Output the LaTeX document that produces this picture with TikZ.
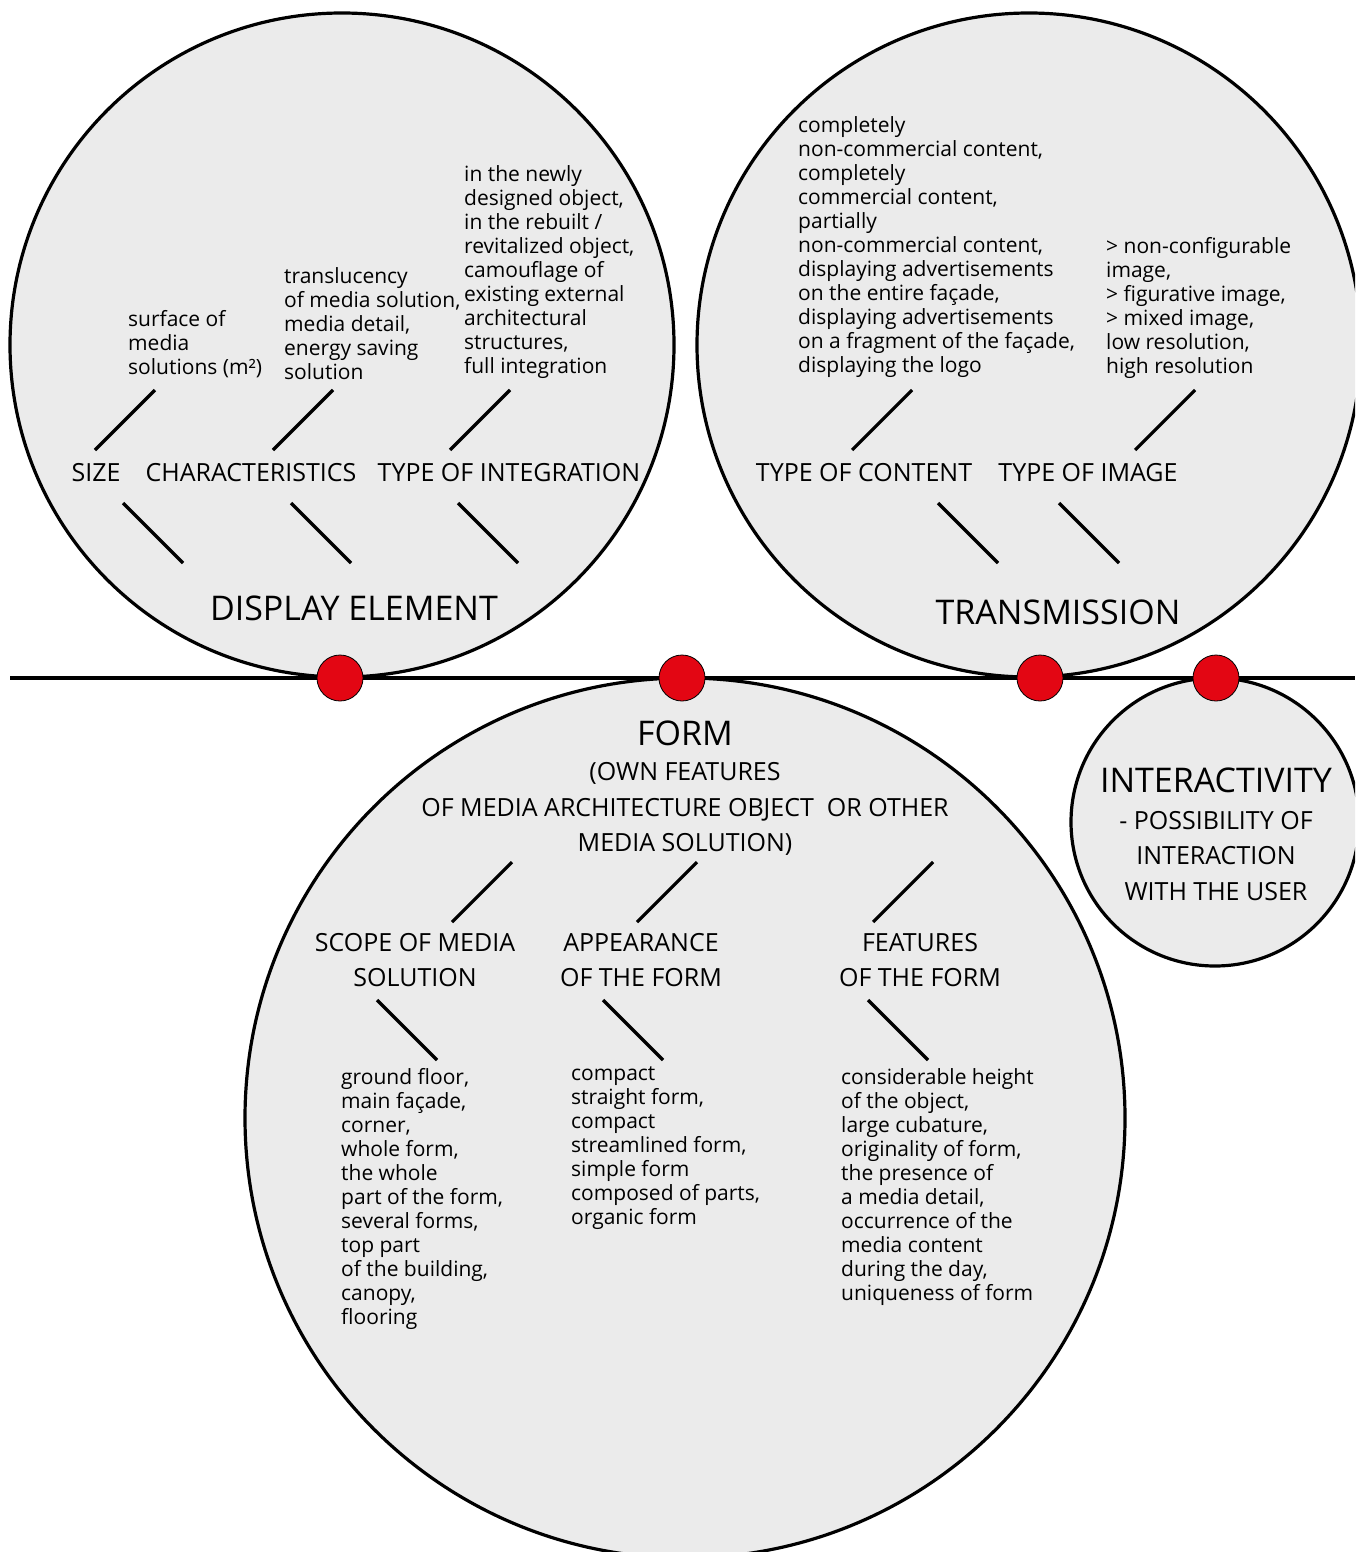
\documentclass[tikz,border=0pt]{standalone}
\usepackage{fontspec}
\setmainfont{Open Sans}
\definecolor{bubblegray}{HTML}{EBEBEB}
\definecolor{dotred}{HTML}{E30613}
\newcommand\fsS{\fontsize{21}{24}\selectfont}
\newcommand\fsM{\fontsize{25}{35.5}\selectfont}
\newcommand\fsL{\fontsize{34}{38}\selectfont}
\begin{document}
\begin{tikzpicture}[x=1pt,y=-1pt,
  bubble/.style={circle, draw=black, line width=3.2pt, fill=bubblegray, inner sep=0pt},
  conn/.style={line width=3.2pt},
  reddot/.style={circle, fill=dotred, draw=black, line width=0.8pt, minimum size=46pt, inner sep=0pt},
  lst/.style={align=left, anchor=west, inner sep=0pt, font=\fsS},
  lab/.style={align=center, inner sep=0pt, font=\fsM},
  ttl/.style={inner sep=0pt, font=\fsL}]
\useasboundingbox (0,0) rectangle (1355,1552);
\clip (0,0) rectangle (1355,1552);
% bubbles
\node[bubble, minimum size=664pt] (disp) at (342,345) {};
\node[bubble, minimum size=664pt] (trans) at (1029,345) {};
\node[bubble, minimum size=880pt] (form) at (685,1118) {};
\node[bubble, minimum size=288pt] (inter) at (1215,822) {};
% axis line
\coordinate (hl) at (10,678);
\coordinate (hr) at (1355,678);
\draw[conn] (hl) -- (hr);
\node[reddot] (d1) at (340,678) {};
\node[reddot] (d2) at (682,678) {};
\node[reddot] (d3) at (1040,678) {};
\node[reddot] (d4) at (1216,678) {};
% display element
\node[lst] (surf) at (128,344) {surface of\\media\\solutions (m²)};
\node[lst] (transl) at (284,324) {translucency\\of media solution,\\media detail,\\energy saving\\solution};
\node[lst] (integ) at (464,272) {in the newly\\designed object,\\in the rebuilt /\\revitalized object,\\camouflage of\\existing external\\architectural\\structures,\\full integration};
\node[lab] (size) at (96,473) {SIZE};
\node[lab] (char) at (251,473) {CHARACTERISTICS};
\node[lab] (toi) at (509,473) {TYPE OF INTEGRATION};
\node[ttl] (dtitle) at (354,608) {DISPLAY ELEMENT};
\coordinate (a1) at (155,390); \coordinate (a2) at (95,450);
\coordinate (b1) at (333,390); \coordinate (b2) at (273,450);
\coordinate (c1) at (510,390); \coordinate (c2) at (450,450);
\draw[conn] (a1) -- (a2);
\draw[conn] (b1) -- (b2);
\draw[conn] (c1) -- (c2);
\coordinate (a3) at (123,503); \coordinate (a4) at (183,563);
\coordinate (b3) at (291,503); \coordinate (b4) at (351,563);
\coordinate (c3) at (458,503); \coordinate (c4) at (518,563);
\draw[conn] (a3) -- (a4);
\draw[conn] (b3) -- (b4);
\draw[conn] (c3) -- (c4);
% transmission
\node[lst] (cont) at (798,247) {completely\\non-commercial content,\\completely\\commercial content,\\partially\\non-commercial content,\\displaying advertisements\\on the entire façade,\\displaying advertisements\\on a fragment of the façade,\\displaying the logo};
\node[lst] (img) at (1106,308) {> non-configurable\\image,\\> figurative image,\\> mixed image,\\low resolution,\\high resolution};
\node[lab] (toc) at (864,473) {TYPE OF CONTENT};
\node[lab] (tim) at (1088,473) {TYPE OF IMAGE};
\node[ttl] (ttitle) at (1058,612) {TRANSMISSION};
\coordinate (e1) at (912,390); \coordinate (e2) at (852,450);
\coordinate (f1) at (1195,390); \coordinate (f2) at (1135,450);
\draw[conn] (e1) -- (e2);
\draw[conn] (f1) -- (f2);
\coordinate (e3) at (938,503); \coordinate (e4) at (998,563);
\coordinate (f3) at (1059,503); \coordinate (f4) at (1119,563);
\draw[conn] (e3) -- (e4);
\draw[conn] (f3) -- (f4);
% form
\node[ttl] (ftitle) at (685,733) {FORM};
\node[lab] (fsub) at (685,809) {(OWN FEATURES\\OF MEDIA ARCHITECTURE OBJECT\ \ OR OTHER\\MEDIA SOLUTION)};
\node[lab] (scope) at (415,960) {SCOPE OF MEDIA\\SOLUTION};
\node[lab] (appear) at (641,960) {APPEARANCE\\OF THE FORM};
\node[lab] (feat) at (920,960) {FEATURES\\OF THE FORM};
\coordinate (g1) at (512,862); \coordinate (g2) at (452,922);
\coordinate (h1) at (697,862); \coordinate (h2) at (637,922);
\coordinate (k1) at (933,862); \coordinate (k2) at (873,922);
\draw[conn] (g1) -- (g2);
\draw[conn] (h1) -- (h2);
\draw[conn] (k1) -- (k2);
\coordinate (g3) at (377,1000); \coordinate (g4) at (437,1060);
\coordinate (h3) at (603,1000); \coordinate (h4) at (663,1060);
\coordinate (k3) at (868,1000); \coordinate (k4) at (928,1060);
\draw[conn] (g3) -- (g4);
\draw[conn] (h3) -- (h4);
\draw[conn] (k3) -- (k4);
\node[lst] (ground) at (341,1199) {ground floor,\\main façade,\\corner,\\whole form,\\the whole\\part of the form,\\several forms,\\top part\\of the building,\\canopy,\\flooring};
\node[lst] (compact) at (571,1148) {compact\\straight form,\\compact\\streamlined form,\\simple form\\composed of parts,\\organic form};
\node[lst] (consid) at (841,1187) {considerable height\\of the object,\\large cubature,\\originality of form,\\the presence of\\a media detail,\\occurrence of the\\media content\\during the day,\\uniqueness of form};
% interactivity
\node[ttl] (ititle) at (1216,780) {INTERACTIVITY};
\node[lab] (isub) at (1216,856) {- POSSIBILITY OF\\INTERACTION\\WITH THE USER};
\end{tikzpicture}
\end{document}
